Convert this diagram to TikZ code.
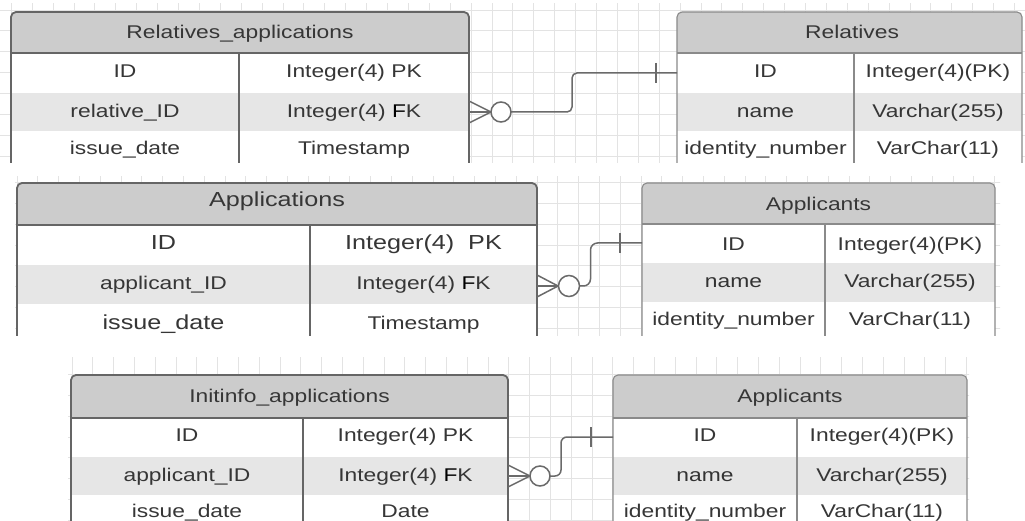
\documentclass[tikz,border=0pt]{standalone}
\usepackage{fontspec}
\setmainfont{Liberation Sans}
\newfontfamily\erfont[FakeStretch=1.24]{Liberation Sans}
\definecolor{gridc}{HTML}{E3E3E3}
\definecolor{hdrc}{HTML}{CCCCCC}
\definecolor{rowc}{HTML}{E6E6E6}
\definecolor{bdark}{HTML}{656565}
\definecolor{blight}{HTML}{8A8A8A}
\definecolor{connc}{HTML}{6A6A6A}
\definecolor{txtc}{HTML}{363636}
\newcommand\ertab[9]{%
  \fill[hdrc,rounded corners=5pt] (#1,#4) rectangle (#3,{#5+10});
  \fill[white] (#1,#5) rectangle (#3,#6);
  \fill[rowc] (#1,#6) rectangle (#3,#7);
  \fill[white] (#1,#7) rectangle (#3,#8);
  \draw[#9,rounded corners=5pt] (#1,#8) -- (#1,#4) -- (#3,#4) -- (#3,#8);
  \draw[#9] (#1,#5) -- (#3,#5);
  \draw[#9] (#2,#5) -- (#2,#8);
}
\begin{document}
\begin{tikzpicture}[x=1pt,y=-1pt,
  gridl/.style={draw=gridc,line width=0.9pt},
  bthick/.style={draw=bdark,line width=1.8pt},
  bthin/.style={draw=blight,line width=1.1pt},
  conn/.style={draw=connc,line width=1.5pt},
  txt/.style={font=\erfont\fontsize{18.4}{22}\selectfont,text=txtc,anchor=base,inner sep=0pt},
  big/.style={font=\erfont\fontsize{20.3}{24}\selectfont},
  dk/.style={text=black!80}]
\useasboundingbox (0,0) rectangle (1025,521);
\fill[white] (0,0) rectangle (1025,521);

% ---------- panel 1 ----------
\begin{scope}
\clip (0,4) rectangle (1025,163);
\foreach \i in {0,...,49} \draw[gridl] ({11.3+20.9*\i},0) -- ({11.3+20.9*\i},170);
\foreach \j in {0,...,7} \draw[gridl] (0,{10+20.9*\j}) -- (1025,{10+20.9*\j});
\ertab{11}{239}{469}{12}{53}{93}{131}{175}{bthick}
\ertab{677}{854}{1022}{12}{53}{93}{131}{175}{bthin}
\node[txt] (t1h) at (240,38.5) {Relatives\_applications};
\node[txt] (t1a) at (125,77.5) {ID};
\node[txt] (t1b) at (354,77.5) {Integer(4) PK};
\node[txt] (t1c) at (125,117.5) {relative\_ID};
\node[txt] (t1d) at (354,117.5) {Integer(4) {\color{black}F}K};
\node[txt] (t1e) at (125,155) {issue\_date};
\node[txt] (t1f) at (354,155) {Timestamp};
\node[txt] (t2h) at (852,38.5) {Relatives};
\node[txt] (t2a) at (765.5,77.5) {ID};
\node[txt] (t2b) at (938,77.5) {Integer(4)(PK)};
\node[txt,dk] (t2c) at (765.5,117.5) {name};
\node[txt] (t2d) at (938,117.5) {Varchar(255)};
\node[txt] (t2e) at (765.5,155) {identity\_number};
\node[txt] (t2f) at (938,155) {VarChar(11)};
\coordinate (c1s) at (469,112);
\coordinate (c1e) at (677,73);
\draw[conn] (c1s) ++(0,-11) -- ++(22,11) -- ++(-22,11);
\draw[conn] (c1s) -- ++(22,0);
\draw[conn,fill=white] (c1s) ++(32,0) circle[radius=10];
\draw[conn,rounded corners=5pt] (c1s) ++(42,0) -- ++(61,0) |- (c1e);
\draw[conn] (c1e) ++(-21,-10) -- ++(0,20);
\end{scope}

% ---------- panel 2 ----------
\begin{scope}
\clip (15,177) rectangle (1000,335);
\foreach \i in {0,...,47} \draw[gridl] ({17+20.8*\i},170) -- ({17+20.8*\i},340);
\foreach \j in {0,...,7} \draw[gridl] (0,{182.6+20.8*\j}) -- (1025,{182.6+20.8*\j});
\ertab{17}{310}{537}{183}{225}{265}{304}{350}{bthick}
\ertab{642}{825}{995}{183}{224}{263}{302}{350}{bthin}
\node[txt,big] (t3h) at (277,207) {Applications};
\node[txt,big] (t3a) at (163.5,249.5) {ID};
\node[txt,big] (t3b) at (423.5,249.5) {Integer(4)\ \ PK};
\node[txt] (t3c) at (163.5,290) {applicant\_ID};
\node[txt] (t3d) at (423.5,290) {Integer(4) {\color{black}F}K};
\node[txt,big] (t3e) at (163.5,329.5) {issue\_date};
\node[txt] (t3f) at (423.5,329.5) {Timestamp};
\node[txt] (t4h) at (818.5,210.5) {Applicants};
\node[txt] (t4a) at (733.5,250.5) {ID};
\node[txt] (t4b) at (910,250.5) {Integer(4)(PK)};
\node[txt,dk] (t4c) at (733.5,287.5) {name};
\node[txt] (t4d) at (910,287.5) {Varchar(255)};
\node[txt] (t4e) at (733.5,325.5) {identity\_number};
\node[txt] (t4f) at (910,325.5) {VarChar(11)};
\coordinate (c2s) at (537,286);
\coordinate (c2e) at (642,243);
\draw[conn] (c2s) ++(0,-11) -- ++(21,11) -- ++(-21,11);
\draw[conn] (c2s) -- ++(21,0);
\draw[conn,fill=white] (c2s) ++(32,0) circle[radius=10.5];
\draw[conn,rounded corners=7pt] (c2s) ++(42.5,0) -- ++(11,0) |- (c2e);
\draw[conn] (c2e) ++(-22,-10) -- ++(0,20);
\end{scope}

% ---------- panel 3 ----------
\begin{scope}
\clip (68,357) rectangle (969,521);
\foreach \i in {0,...,44} \draw[gridl] ({72+20.8*\i},350) -- ({72+20.8*\i},530);
\foreach \j in {0,...,7} \draw[gridl] (0,{374.6+20.8*\j}) -- (1025,{374.6+20.8*\j});
\ertab{71}{303}{508}{375}{418}{457}{495}{540}{bthick}
\ertab{613}{797}{967}{375}{418}{457}{495}{540}{bthin}
\node[txt] (t5h) at (289.5,402.5) {Initinfo\_applications};
\node[txt] (t5a) at (187,441.5) {ID};
\node[txt] (t5b) at (405.5,441.5) {Integer(4) PK};
\node[txt] (t5c) at (187,481.5) {applicant\_ID};
\node[txt] (t5d) at (405.5,481.5) {Integer(4) {\color{black}F}K};
\node[txt] (t5e) at (187,517) {issue\_date};
\node[txt] (t5f) at (405.5,517) {Date};
\node[txt] (t6h) at (790,402.5) {Applicants};
\node[txt] (t6a) at (705,441.5) {ID};
\node[txt] (t6b) at (882,441.5) {Integer(4)(PK)};
\node[txt,dk] (t6c) at (705,481.5) {name};
\node[txt] (t6d) at (882,481.5) {Varchar(255)};
\node[txt] (t6e) at (705,517) {identity\_number};
\node[txt] (t6f) at (882,517) {VarChar(11)};
\coordinate (c3s) at (508,476);
\coordinate (c3e) at (613,437);
\draw[conn] (c3s) ++(0,-11) -- ++(22,11) -- ++(-22,11);
\draw[conn] (c3s) -- ++(22,0);
\draw[conn,fill=white] (c3s) ++(32,0) circle[radius=10];
\draw[conn,rounded corners=6pt] (c3s) ++(42,0) -- ++(11,0) |- (c3e);
\draw[conn] (c3e) ++(-22,-10) -- ++(0,20);
\end{scope}
\end{tikzpicture}
\end{document}
